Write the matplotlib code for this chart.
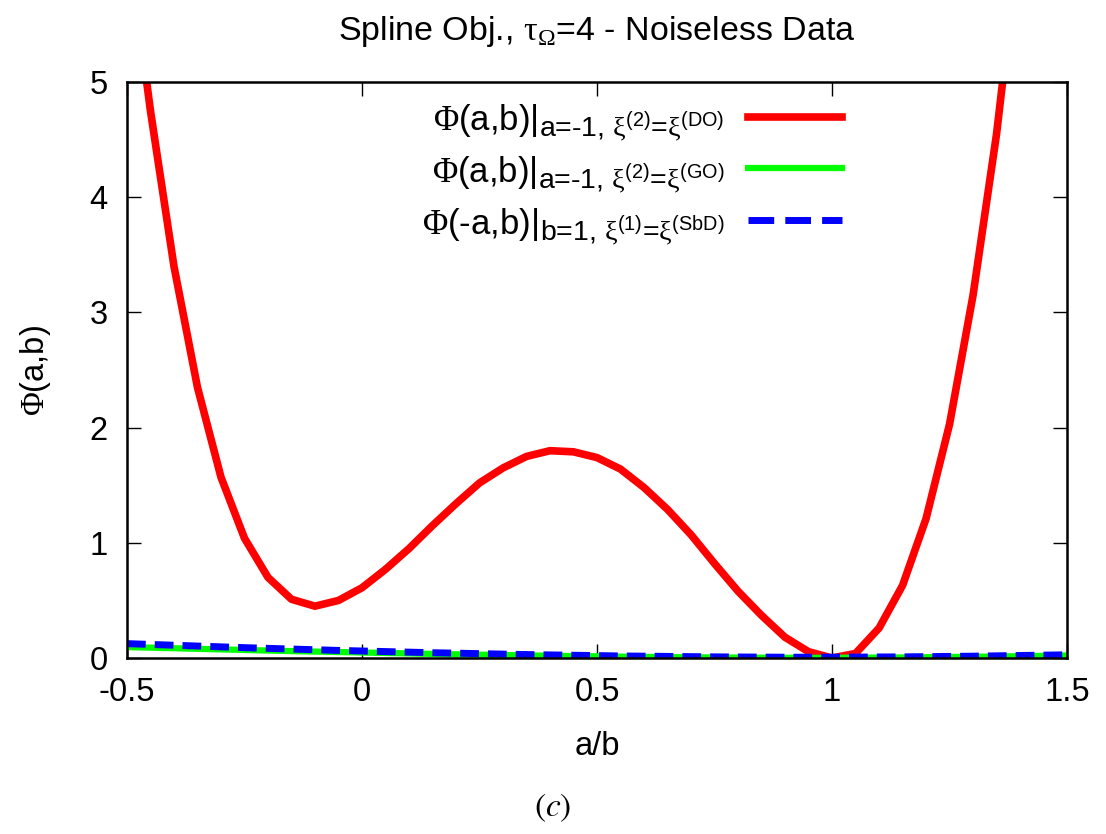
import matplotlib
matplotlib.use("Agg")
import matplotlib.pyplot as plt

plt.rcParams['font.family'] = ['Liberation Sans', 'DejaVu Sans']
plt.rcParams['mathtext.fontset'] = 'custom'
plt.rcParams['mathtext.rm'] = 'Liberation Sans'
plt.rcParams['mathtext.it'] = 'Liberation Sans:italic'
plt.rcParams['mathtext.sf'] = 'Liberation Serif'

# a/b sample points
ab = [-0.50, -0.45, -0.40, -0.35, -0.30, -0.25, -0.20, -0.15, -0.10, -0.05,
      0.00, 0.05, 0.10, 0.15, 0.20, 0.25, 0.30, 0.35, 0.40, 0.45,
      0.50, 0.55, 0.60, 0.65, 0.70, 0.75, 0.80, 0.85, 0.90, 0.95,
      1.00, 1.05, 1.10, 1.15, 1.20, 1.25, 1.30, 1.35, 1.40, 1.45, 1.50]

phi_do = [6.30, 4.75, 3.40, 2.35, 1.57, 1.04, 0.70, 0.51, 0.45, 0.50,
          0.61, 0.77, 0.95, 1.15, 1.34, 1.52, 1.65, 1.75, 1.80, 1.79,
          1.74, 1.64, 1.48, 1.29, 1.07, 0.82, 0.58, 0.37, 0.18, 0.055,
          0.00, 0.04, 0.26, 0.63, 1.21, 2.03, 3.15, 4.55, 6.30, 8.40, 11.0]

phi_go = [0.095, 0.090, 0.085, 0.080, 0.075, 0.070, 0.065, 0.060, 0.056, 0.052,
          0.048, 0.044, 0.040, 0.036, 0.032, 0.029, 0.026, 0.023, 0.020, 0.017,
          0.015, 0.012, 0.010, 0.008, 0.006, 0.005, 0.004, 0.003, 0.002, 0.002,
          0.002, 0.003, 0.004, 0.005, 0.007, 0.009, 0.011, 0.013, 0.016, 0.019, 0.022]

phi_sbd = [0.125, 0.118, 0.111, 0.104, 0.097, 0.090, 0.084, 0.078, 0.072, 0.066,
           0.061, 0.056, 0.051, 0.046, 0.042, 0.038, 0.034, 0.030, 0.027, 0.024,
           0.021, 0.018, 0.016, 0.014, 0.012, 0.010, 0.009, 0.008, 0.007, 0.007,
           0.007, 0.008, 0.009, 0.010, 0.012, 0.014, 0.016, 0.019, 0.022, 0.025, 0.028]

# key labels: main part and subscript part
main_labels = [r'$\mathsf{\Phi}$(a,b)|', r'$\mathsf{\Phi}$(a,b)|', r'$\mathsf{\Phi}$(-a,b)|']
sub_labels = [
    r'$\text{a=-1, }\mathsf{\xi}^{\text{(2)}}\text{=}\mathsf{\xi}^{\text{(DO)}}$',
    r'$\text{a=-1, }\mathsf{\xi}^{\text{(2)}}\text{=}\mathsf{\xi}^{\text{(GO)}}$',
    r'$\text{b=1, }\mathsf{\xi}^{\text{(1)}}\text{=}\mathsf{\xi}^{\text{(SbD)}}$',
]
colors = ['#ff0000', '#00ff00', '#0000ff']

fig = plt.figure(figsize=(11.06, 8.34), dpi=100)
ax = fig.add_axes([0.1148, 0.211, 0.85, 0.6906])

l1, = ax.plot(ab, phi_do, color=colors[0], lw=5.5)
l2, = ax.plot(ab, phi_go, color=colors[1], lw=4.5)
l3, = ax.plot(ab, phi_sbd, color=colors[2], lw=5.0, dashes=(2.7, 1.3),
              dash_capstyle='butt')

ax.set_xlim(-0.5, 1.5)
ax.set_ylim(0, 5)
ax.set_xticks([-0.5, 0, 0.5, 1, 1.5])
ax.set_xticklabels(['-0.5', '0', '0.5', '1', '1.5'])
ax.set_yticks([0, 1, 2, 3, 4, 5])
ax.tick_params(direction='in', length=10, width=1, top=True, right=True,
               labelsize=23.5, pad=14)
for s in ax.spines.values():
    s.set_linewidth(1.8)

ax.set_xlabel('a/b', fontsize=23.5, labelpad=16)
ax.set_ylabel(r'$\mathsf{\Phi}$(a,b)', fontsize=23.5, labelpad=26)
ax.set_title(r'Spline Obj., $\mathsf{\tau}_{\mathsf{\Omega}}$=4 - Noiseless Data',
             fontsize=24.5, pad=30)

# gnuplot-style key: right-aligned text followed by the line sample
fig.canvas.draw()
key_rows = [0.940, 0.851, 0.760]
for line, main, sub, yk in zip([l1, l2, l3], main_labels, sub_labels, key_rows):
    st = ax.text(0.636, yk - 0.035, sub, transform=ax.transAxes, ha='right',
                 va='baseline', fontsize=20.5)
    bb = st.get_window_extent(fig.canvas.get_renderer())
    x0 = ax.transAxes.inverted().transform((bb.x0, 0))[0]
    ax.text(x0 - 0.002, yk - 0.024, main, transform=ax.transAxes, ha='right',
            va='baseline', fontsize=25)
    ax.plot([0.661, 0.761], [yk, yk], transform=ax.transAxes,
            color=line.get_color(), lw=line.get_linewidth(),
            linestyle=line.get_linestyle(), dash_capstyle='butt')

fig.text(0.5, 0.031, r'$(c)$', ha='center', va='center', fontsize=24,
         math_fontfamily='stix')

fig.savefig('out.png', dpi=100)
